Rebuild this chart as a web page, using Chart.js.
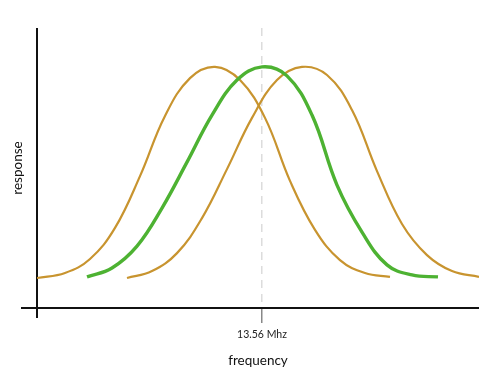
<!DOCTYPE html>
<html>
<head>
<meta charset="utf-8">
<script src="https://cdn.jsdelivr.net/npm/chart.js@4.4.1/dist/chart.umd.min.js"></script>
<style>
  html, body { margin: 0; padding: 0; background: #fff; }
  #wrap { width: 500px; height: 385px; }
</style>
</head>
<body>
<div id="wrap"><canvas id="chart" width="500" height="385"></canvas></div>
<script>
// frequency in MHz, response in arbitrary units
const centerFreq = 13.56;
const centerLabel = '13.56 Mhz';

const lowFreq = [11.31, 11.59, 11.84, 12.09, 12.34, 12.59, 12.84, 13.09, 13.34, 13.59, 13.84, 14.09, 14.34, 14.59, 14.84];
const lowResp = [10.7, 12.5, 17.5, 28.6, 47.1, 68.6, 82.1, 86.1, 81.4, 67.9, 45.4, 27.9, 17.1, 12.5, 11.1];

const midFreq = [11.81, 12.06, 12.31, 12.56, 12.81, 13.06, 13.31, 13.56, 13.81, 14.06, 14.31, 14.56, 14.81, 15.06, 15.32];
const midResp = [11.1, 14.3, 22.1, 35.7, 52.1, 68.9, 81.4, 86.1, 82.9, 68.9, 43.9, 27.1, 15.4, 11.8, 11.1];

const highFreq = [12.21, 12.46, 12.71, 12.96, 13.21, 13.46, 13.71, 13.96, 14.21, 14.46, 14.71, 14.96, 15.21, 15.46, 15.73];
const highResp = [10.7, 13.2, 19.6, 32.1, 49.6, 67.9, 81.4, 86.1, 83.2, 70.7, 48.9, 30.0, 18.9, 13.2, 11.1];

const orange = '#c8942f';
const green = '#4db232';

const toPoints = (xs, ys) => xs.map((x, i) => ({ x: x, y: ys[i] }));

// plain black axis lines that overhang each other like in the drawing
const axisLines = {
    id: 'axisLines',
    beforeDatasetsDraw(chart) {
        const { ctx, chartArea } = chart;
        ctx.save();
        ctx.strokeStyle = '#111';
        ctx.lineWidth = 2;
        ctx.beginPath();
        ctx.moveTo(chartArea.left, chartArea.top);
        ctx.lineTo(chartArea.left, chartArea.bottom + 10);
        ctx.moveTo(chartArea.left - 16, chartArea.bottom);
        ctx.lineTo(chartArea.right, chartArea.bottom);
        ctx.stroke();
        ctx.restore();
    }
};

new Chart(document.getElementById('chart'), {
    type: 'line',
    data: {
        datasets: [
            { data: toPoints(lowFreq, lowResp), borderColor: orange, borderWidth: 2.2, order: 1 },
            { data: toPoints(highFreq, highResp), borderColor: orange, borderWidth: 2.2, order: 1 },
            { data: toPoints(midFreq, midResp), borderColor: green, borderWidth: 3.4, order: 0 }
        ]
    },
    options: {
        responsive: false,
        animation: false,
        layout: { padding: { top: 28, right: 21, bottom: 0, left: 0 } },
        elements: {
            point: { radius: 0 },
            line: { tension: 0.4, fill: false }
        },
        plugins: {
            legend: { display: false },
            tooltip: { enabled: false }
        },
        scales: {
            x: {
                type: 'linear',
                min: 11.31,
                max: 15.73,
                afterBuildTicks: axis => { axis.ticks = [{ value: centerFreq }]; },
                afterFit: scale => { scale.height = 77; },
                grid: {
                    display: true,
                    drawOnChartArea: true,
                    color: '#dcdcdc',
                    lineWidth: 1.5,
                    tickLength: 15,
                    tickColor: '#888',
                    tickWidth: 1.5,
                    tickBorderDash: []
                },
                border: { display: false, dash: [8, 6] },
                ticks: {
                    padding: 5,
                    color: '#222',
                    font: { family: 'Lato', size: 10.5 },
                    callback: () => centerLabel
                },
                title: {
                    display: true,
                    text: 'frequency',
                    color: '#111',
                    font: { family: 'Lato', size: 13.5 },
                    padding: { top: 0, bottom: 16 }
                }
            },
            y: {
                min: 0,
                max: 100,
                afterFit: scale => { scale.width = 37; },
                grid: { display: false },
                border: { display: false },
                ticks: { display: false },
                title: {
                    display: true,
                    text: 'response',
                    color: '#111',
                    font: { family: 'Lato', size: 13.5 },
                    padding: { top: 10, bottom: 0 }
                }
            }
        }
    },
    plugins: [axisLines]
});
</script>
</body>
</html>
